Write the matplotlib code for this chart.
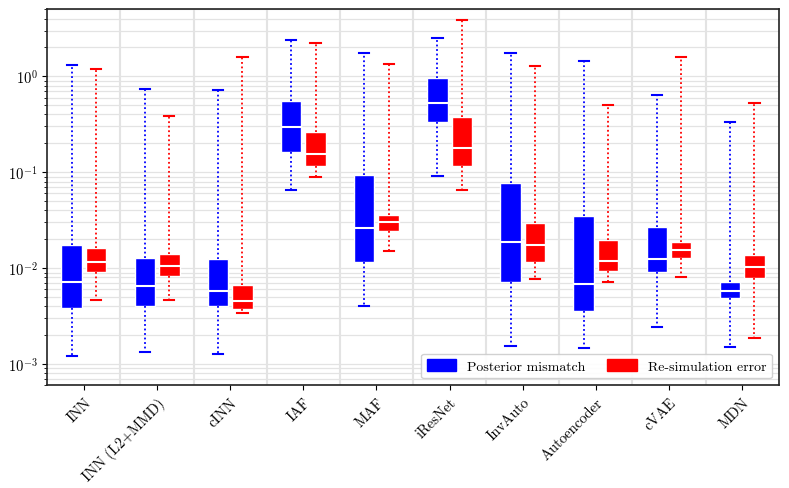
import matplotlib
matplotlib.use("Agg")
import matplotlib.pyplot as plt
from matplotlib.patches import Patch
import numpy as np

plt.rcParams['mathtext.fontset'] = 'cm'
plt.rcParams['font.family'] = ['cmr10', 'DejaVu Serif']
plt.rcParams['axes.formatter.use_mathtext'] = True
plt.rcParams['axes.unicode_minus'] = False

categories = ['INN', 'INN (L2+MMD)', 'cINN', 'IAF', 'MAF', 'iResNet',
              'InvAuto', 'Autoencoder', 'cVAE', 'MDN']

# Posterior mismatch: whisker low, q1, median, q3, whisker high
post_low = [0.00122, 0.00133, 0.00126, 0.066, 0.00404, 0.0906, 0.00154, 0.00148, 0.00246, 0.0015]
post_q1 = [0.00385, 0.00401, 0.00401, 0.164, 0.01166, 0.336, 0.00717, 0.00356, 0.00903, 0.00485]
post_med = [0.00722, 0.00647, 0.00574, 0.293, 0.0259, 0.533, 0.01867, 0.00684, 0.01253, 0.00582]
post_q3 = [0.0173, 0.0127, 0.01234, 0.550, 0.0935, 0.962, 0.0767, 0.0348, 0.0269, 0.00717]
post_high = [1.30, 0.733, 0.715, 2.41, 1.75, 2.51, 1.76, 1.43, 0.645, 0.336]

# Re-simulation error
resim_low = [0.00463, 0.00470, 0.00339, 0.0885, 0.01506, 0.0659, 0.00764, 0.00717, 0.00815, 0.00189]
resim_q1 = [0.00903, 0.00822, 0.00378, 0.117, 0.0241, 0.115, 0.01166, 0.00924, 0.01273, 0.00783]
resim_med = [0.01156, 0.01044, 0.00458, 0.1535, 0.0304, 0.180, 0.01725, 0.01177, 0.01531, 0.01035]
resim_q3 = [0.0162, 0.0141, 0.00667, 0.262, 0.0362, 0.375, 0.0292, 0.0197, 0.0187, 0.0136]
resim_high = [1.19, 0.39, 1.58, 2.20, 1.33, 3.88, 1.29, 0.505, 1.60, 0.524]


def make_stats(low, q1, med, q3, high):
    return [dict(whislo=a, q1=b, med=c, q3=d, whishi=e, fliers=[])
            for a, b, c, d, e in zip(low, q1, med, q3, high)]


fig, ax = plt.subplots(figsize=(7.89, 4.89), dpi=100)
fig.subplots_adjust(left=0.060, right=0.987, top=0.979, bottom=0.210)

pos = np.arange(1, len(categories) + 1)
off = 0.167
w = 0.28


def draw(stats, positions, color):
    ax.bxp(stats, positions=positions, widths=w, patch_artist=True,
           showfliers=False,
           boxprops=dict(facecolor=color, edgecolor='white', linewidth=1.0),
           medianprops=dict(color='white', linewidth=1.5),
           whiskerprops=dict(color=color, linestyle=(0, (1, 1.5)), linewidth=1.3),
           capprops=dict(color=color, linewidth=1.5),
           zorder=3)


draw(make_stats(post_low, post_q1, post_med, post_q3, post_high), pos - off, '#0000ff')
draw(make_stats(resim_low, resim_q1, resim_med, resim_q3, resim_high), pos + off, '#ff0000')

ax.set_yscale('log')
ax.set_ylim(6e-4, 5.0)
ax.set_xlim(0.5, len(categories) + 0.5)
ax.set_xticks(pos)
ax.set_xticklabels(categories, rotation=45, ha='right', rotation_mode='anchor',
                   fontsize=10.5)
ax.tick_params(axis='y', labelsize=10.5)

ax.yaxis.grid(True, which='both', color='#e3e3e3', linewidth=0.9, zorder=0)
for b in pos[:-1] + 0.5:
    ax.axvline(b, color='#e3e3e3', linewidth=1.5, zorder=0)
ax.set_axisbelow(True)

for s in ax.spines.values():
    s.set_color('#222222')
    s.set_linewidth(1.2)

handles = [Patch(facecolor='#0000ff', edgecolor='#0000ff', label='Posterior mismatch'),
           Patch(facecolor='#ff0000', edgecolor='#ff0000', label='Re-simulation error')]
leg = ax.legend(handles=handles, loc='lower right', ncol=2, fontsize=10,
                handlelength=2.1, handleheight=0.9, columnspacing=1.6,
                borderaxespad=0.5, fancybox=True, framealpha=0.9)
leg.set_zorder(5)

fig.savefig('out.png', dpi=100)
